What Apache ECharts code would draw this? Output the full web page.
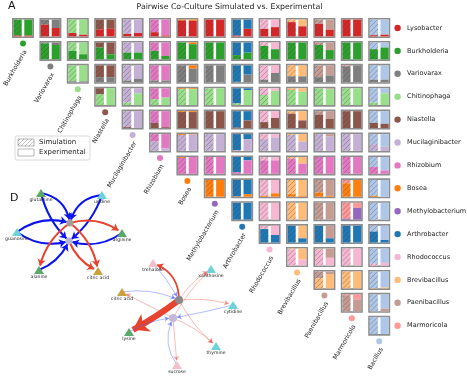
<!DOCTYPE html>
<html><head><meta charset="utf-8">
<script src="https://cdn.jsdelivr.net/npm/echarts@6/dist/echarts.min.js"></script>
<style>html,body{margin:0;padding:0;background:#fff}#c{width:467px;height:379px}</style>
</head><body><div id="c"></div>
<script>
// ---------------- DATA ----------------
const species = ['Lysobacter','Burkholderia','Variovarax','Chitinophaga','Niastella','Mucilaginibacter','Rhizobium','Bosea','Methylobacterium','Arthrobacter','Rhodococcus','Brevibacillus','Paenibacillus','Marmoricola','Bacillus'];
const speciesColors = ['#d62728','#2ca02c','#7f7f7f','#98df8a','#8c564b','#c5b0d5','#e377c2','#ff7f0e','#9467bd','#1f77b4','#f7b6d2','#ffbb78','#c49c94','#ff9896','#aec7e8'];
// fraction of the row species in each pairwise co-culture (columns row+1 .. 14)
const simFrac = [
  [0.05,0.7,0.2,0.42,0.15,0.25,0.95,1.0,0.05,0.45,0.85,0.75,1.0,0.07],
  [0.95,0.5,0.7,0.4,0.5,1.0,1.0,0.25,0.8,1.0,0.85,1.0,0.6],
  [0.05,0.3,0.1,0.1,1.0,1.0,0.02,0.15,0.35,0.3,0.95,0.15],
  [0.65,0.15,0.35,0.95,1.0,0.1,0.6,0.9,1.0,1.0,0.15],
  [0.05,0.3,0.95,1.0,0.02,0.35,0.85,0.8,1.0,0.3],
  [0.55,0.95,1.0,0.05,0.7,0.95,1.0,1.0,0.4],
  [0.95,1.0,0.1,0.8,0.9,1.0,1.0,0.4],
  [1.0,0.02,0.05,0.15,0.25,0.8,0.05],
  [0.0,0.0,0.0,0.0,0.05,0.0],
  [0.8,1.0,1.0,1.0,0.65],
  [0.95,0.95,1.0,0.1],
  [0.6,1.0,0.02],
  [0.95,0.0],
  [0.0]
];
const expFrac = [
  [0.05,0.5,0.1,0.45,0.2,0.05,0.93,1.0,0.45,0.55,0.6,0.4,1.0,0.1],
  [0.85,0.3,0.3,0.4,0.2,0.9,1.0,0.4,0.6,1.0,0.55,1.0,0.7],
  [0.05,0.3,0.2,0.1,0.8,1.0,0.45,0.55,0.35,0.4,1.0,0.15],
  [1.0,0.7,0.45,0.95,1.0,0.9,0.85,0.8,0.95,1.0,0.7],
  [0.0,0.05,0.95,1.0,0.45,0.6,0.45,0.55,1.0,0.25],
  [0.15,0.97,1.0,0.7,0.8,0.55,0.85,1.0,0.25],
  [1.0,1.0,0.8,0.8,0.6,1.0,1.0,0.2],
  [1.0,0.15,0.2,0.05,0.05,1.0,0.0],
  [0.0,0.0,0.0,0.0,0.7,0.0],
  [0.45,0.25,0.25,1.0,0.15],
  [0.35,0.45,1.0,0.15],
  [0.85,1.0,0.05],
  [0.7,0.15],
  [0.0]
];
const titleText = 'Pairwise Co-Culture Simulated vs. Experimental';
const barLegend = ['Simulation','Experimental'];

// network D (upper): metabolites, class, exchange edges [from, to, flux]
const net1Metabolites = ['glutamine','uridine','guanosine','arginine','alanine','citric acid'];
const net1Class = ['amino acid','nucleoside','nucleoside','amino acid','amino acid','organic acid'];
const net1Edges = [
  ['glutamine','sp1',1],['glutamine','sp2',1],
  ['uridine','sp1',1],['uridine','sp2',1],
  ['guanosine','sp1',1],['guanosine','sp2',1],
  ['sp1','arginine',1],['arginine','sp2',1],
  ['sp1','alanine',1],['alanine','sp2',1],
  ['sp1','citric acid',1],['sp2','citric acid',1]
];
// network D (lower)
const net2Metabolites = ['trehalose','xanthosine','citric acid','cytidine','lysine','thymine','sucrose'];
const net2Class = ['sugar','nucleoside','organic acid','nucleoside','amino acid','nucleoside','sugar'];
const net2Edges = [
  ['sp1','lysine',10],['sp1','trehalose',2.5],['trehalose','sp1',0.3],
  ['citric acid','sp1',0.3],['sp2','citric acid',0.3],
  ['sp1','xanthosine',0.3],['sp2','xanthosine',0.3],
  ['sp1','cytidine',0.3],['cytidine','sp2',0.3],
  ['sp1','thymine',0.3],['sp2','thymine',0.3],
  ['sp2','sucrose',0.3],['sucrose','sp2',0.3],
  ['lysine','sp2',0.3]
];

// ---------------- LAYOUT / STYLE ----------------
const FONT = 'DejaVu Sans';
const CELL_W = 22/27.4, CELL_H = 20/22.9;
const classColor = {'amino acid':'#5aa96a','nucleoside':'#6fd2da','organic acid':'#c9a13e','sugar':'#f2c0cb'};
const net1Pos = {sp1:[70,223], sp2:[69,241], glutamine:[41,193], uridine:[102,195], guanosine:[17,232], arginine:[122,233], alanine:[39,270], 'citric acid':[98,271]};
const net1Curve = [0.35,-0.15,-0.35,0.15,0.25,-0.25,0.25,0.25,-0.2,-0.2,0.2,-0.2];
const net2Pos = {sp1:[179,300], sp2:[173,318], trehalose:[153,263], xanthosine:[211,269], 'citric acid':[122,292], cytidine:[233,305], lysine:[129,332], thymine:[216,346], sucrose:[177,365]};
const net2Curve = [0.04,-0.35,0.06,0.15,0.0,0.12,0.08,0.1,0.02,-0.1,0.1,0.0,0.3,0.12];

function hatch(x,y,w,h,step,color){
  const out=[];
  for(let k=x+y+step/2;k<x+w+y+h;k+=step){
    const xs=Math.max(x,k-(y+h)), xe=Math.min(x+w,k-y);
    if(xe>xs) out.push({type:'line',silent:true,shape:{x1:xs,y1:k-xs,x2:xe,y2:k-xe},style:{stroke:'rgba(60,60,60,0.55)',lineWidth:0.6}});
  }
  return out;
}

const cellData=[];
simFrac.forEach((row,i)=>row.forEach((v,k)=>{cellData.push([i+1+k, i, v, expFrac[i][k]]);}));
const colLabelData=[]; for(let j=1;j<species.length;j++) colLabelData.push([j,j-1]);
const legendData=[]; for(let i=0;i<species.length-1;i++) legendData.push([14,i]);

function renderCell(params, api){
  const col=api.value(0), row=api.value(1), sf=api.value(2), ef=api.value(3);
  const tl=api.coord([col-1,row]), br=api.coord([col-1+CELL_W,row+CELL_H]);
  const x=tl[0], y=tl[1], w=br[0]-x, h=br[1]-y;
  const b=1.6, gap=2.6;
  const ix=x+b, iy=y+b, iw=w-2*b, ih=h-2*b, bw=(iw-gap)/2;
  const children=[{type:'rect',shape:{x:x+0.8,y:y+0.8,width:w-1.6,height:h-1.6},style:{fill:'#fff',stroke:'#8c8c8c',lineWidth:1.6}}];
  function bar(bx,frac,hatched){
    const hb=ih*frac;
    if(ih-hb>0) children.push({type:'rect',shape:{x:bx,y:iy,width:bw,height:ih-hb},style:{fill:speciesColors[col]}});
    if(hb>0) children.push({type:'rect',shape:{x:bx,y:iy+ih-hb,width:bw,height:hb},style:{fill:speciesColors[row]}});
    if(hatched) hatch(bx,iy,bw,ih,5).forEach(e=>children.push(e));
  }
  bar(ix,sf,true); bar(ix+bw+gap,ef,false);
  return {type:'group',children};
}
function renderColLabel(params, api){
  const col=api.value(0), row=api.value(1);
  const p=api.coord([col-1+CELL_W/2,row+CELL_H]);
  const cx=p[0], cy=p[1]+5.5;
  return {type:'group',children:[
    {type:'circle',shape:{cx,cy,r:3},style:{fill:speciesColors[col]}},
    {type:'text',x:cx+2.5,y:cy+7,rotation:Math.PI/3,style:{text:species[col],align:'right',verticalAlign:'middle',fontSize:6.3,fontFamily:FONT,fill:'#222'}}
  ]};
}
function renderLegend(params, api){
  const row=api.value(1);
  const p=api.coord([14,row+CELL_H/2]);
  return {type:'group',children:[
    {type:'circle',shape:{cx:p[0]+2,cy:p[1],r:3.2},style:{fill:speciesColors[row]}},
    {type:'text',x:p[0]+11.5,y:p[1],style:{text:species[row],align:'left',verticalAlign:'middle',fontSize:6.5,fontFamily:FONT,fill:'#222'}}
  ]};
}

function buildNet(metabolites, classes, edges, pos, curves, cfg){
  const names=['sp1','sp2'].concat(metabolites);
  const nodes=names.map((n,i)=>{
    if(i<2) return {name:n,value:pos[n],symbol:'circle',symbolSize:cfg.spSize,itemStyle:{color:cfg.spColors[i]},label:{show:false}};
    return {name:n,value:pos[n],symbol:'triangle',symbolSize:cfg.triSize,itemStyle:{color:classColor[classes[i-2]]},
      label:{show:true,position:'bottom',distance:0.5,fontSize:4.6,fontFamily:FONT,color:'#222'}};
  });
  const links=edges.map((e,k)=>{
    const uptake=e[0]!=='sp1'&&e[0]!=='sp2';
    const thin=e[2]<0.5;
    const col=uptake?(thin?'rgba(70,90,255,0.6)':'#0a14f0'):(thin?'rgba(235,80,60,0.55)':'#e8432e');
    return {source:names.indexOf(e[0]),target:names.indexOf(e[1]),symbolSize:[0,cfg.arrowOf(e[2])],
      lineStyle:{color:col,width:cfg.widthOf(e[2]),curveness:curves[k],opacity:1}};
  });
  return {type:'graph',coordinateSystem:'cartesian2d',xAxisIndex:1,yAxisIndex:1,layout:'none',
    edgeSymbol:['none','arrow'],data:nodes,links,silent:true,animation:false,z:5,
    emphasis:{disabled:true},lineStyle:{opacity:1}};
}

const legendBox={type:'group',children:[
  {type:'rect',shape:{x:15,y:136,width:75,height:24,r:2},style:{fill:'#fff',stroke:'#d0d0d0',lineWidth:0.8}},
  {type:'rect',shape:{x:18,y:139,width:16,height:7},style:{fill:'#fff',stroke:'#999',lineWidth:0.7}},
  ...hatch(18,139,16,7,4),
  {type:'rect',shape:{x:18,y:149,width:16,height:7},style:{fill:'#fff',stroke:'#999',lineWidth:0.7}},
  {type:'text',x:39,y:142.5,style:{text:barLegend[0],verticalAlign:'middle',fontSize:7,fontFamily:FONT,fill:'#222'}},
  {type:'text',x:39,y:152.5,style:{text:barLegend[1],verticalAlign:'middle',fontSize:7,fontFamily:FONT,fill:'#222'}}
]};

const chart=echarts.init(document.getElementById('c'));
chart.setOption({
  animation:false,
  backgroundColor:'#fff',
  grid:[{left:12,top:18,width:383.6,height:320.6},{left:0,top:0,width:467,height:379}],
  xAxis:[{type:'value',min:0,max:14,show:false,gridIndex:0},{type:'value',min:0,max:467,show:false,gridIndex:1}],
  yAxis:[{type:'value',min:0,max:14,inverse:true,show:false,gridIndex:0},{type:'value',min:0,max:379,inverse:true,show:false,gridIndex:1}],
  graphic:[
    {type:'text',x:8,y:1,style:{text:'A',fontSize:11,fontFamily:FONT,fill:'#111'}},
    {type:'text',x:10,y:193,style:{text:'D',fontSize:11,fontFamily:FONT,fill:'#111'}},
    {type:'text',x:229.5,y:3,style:{text:titleText,align:'center',fontSize:7.8,fontFamily:FONT,fill:'#222'}},
    legendBox
  ],
  series:[
    {type:'custom',renderItem:renderCell,data:cellData,clip:false,silent:true,xAxisIndex:0,yAxisIndex:0},
    {type:'custom',renderItem:renderColLabel,data:colLabelData,clip:false,silent:true,xAxisIndex:0,yAxisIndex:0},
    {type:'custom',renderItem:renderLegend,data:legendData,clip:false,silent:true,xAxisIndex:0,yAxisIndex:0},
    buildNet(net1Metabolites,net1Class,net1Edges,net1Pos,net1Curve,{spSize:7,triSize:[10,8],spColors:['#a99b97','#bdb4cd'],widthOf:f=>2.1,arrowOf:f=>6.5}),
    buildNet(net2Metabolites,net2Class,net2Edges,net2Pos,net2Curve,{spSize:8,triSize:[10,8],spColors:['#8a8a8a','#c4b7da'],widthOf:f=>f<0.5?0.7:(f>5?6:1.8),arrowOf:f=>f<0.5?4.5:(f>5?15:6)})
  ]
});
</script></body></html>
